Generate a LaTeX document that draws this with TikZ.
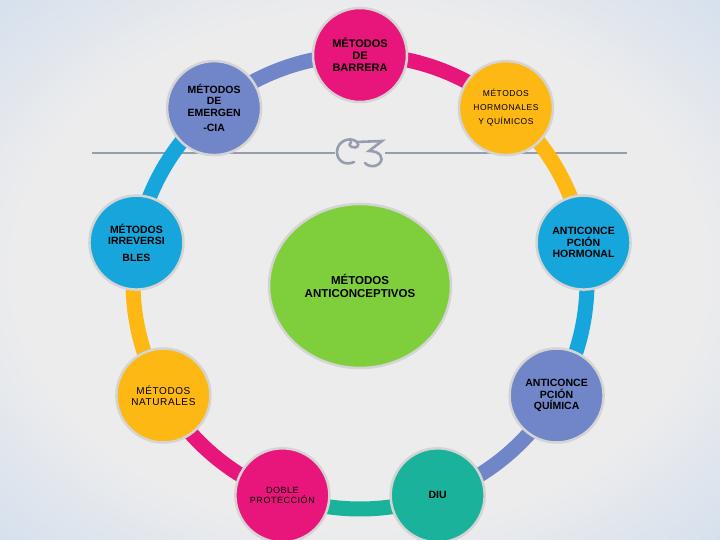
\documentclass[tikz,border=0pt]{standalone}
\usepackage{fontspec}
\setmainfont{Liberation Sans}
\newfontfamily\espaciada[LetterSpace=6]{Liberation Sans}
\usetikzlibrary{calc,shapes.geometric}

\definecolor{rosa}{RGB}{232,22,122}
\definecolor{lila}{RGB}{112,134,200}
\definecolor{amarillo}{RGB}{253,184,19}
\definecolor{celeste}{RGB}{22,166,220}
\definecolor{verde}{RGB}{127,206,60}
\definecolor{turquesa}{RGB}{26,178,155}
\definecolor{borde}{RGB}{212,212,212}
\definecolor{lineagris}{RGB}{150,158,174}
\definecolor{fondoin}{RGB}{236,236,237}
\definecolor{fondoout}{RGB}{192,213,236}

\pgfdeclareradialshading{fondo}{\pgfpoint{0bp}{0bp}}{color(0bp)=(fondoin); color(24bp)=(fondoin); color(46bp)=(fondoout); color(75bp)=(fondoout)}

\tikzset{
	metodo/.style={circle, minimum size=94pt, inner sep=0pt, draw=borde, line width=2.5pt, fill=#1, align=center, text=black},
	negrita/.style={font=\fontsize{10.5}{11.5}\selectfont\bfseries},
	ligera/.style={font=\espaciada\fontsize{#1}{10}\selectfont},
	anillo/.style={line width=15pt, draw=#1},
}

\begin{document}
\begin{tikzpicture}[x=1pt, y=1pt]
			%%%%% FONDO %%%%%
			\useasboundingbox (0,0) rectangle (720,540);
			\shade[shading=fondo] (0,0) rectangle (720,540);
			
			\draw[line width=2pt, color=lineagris] (92,387) -- (335,387);
			\draw[line width=2pt, color=lineagris] (385,387) -- (627,387);
			
			\begin{scope}[shift={(360,389)}, line width=2.6pt, color=lineagris, line cap=round]
				\draw (-3,9) .. controls (-10,15) and (-23,10) .. (-23,-1) .. controls (-23,-10) and (-15,-15) .. (-6,-11);
				\draw (-3,9) .. controls (0,6) and (-3,2) .. (-8,4) .. controls (-11,5) and (-11,8) .. (-9,9);
				\draw (-3,9) -- (22,10) -- (9,0) .. controls (20,0) and (25,-7) .. (19,-13) .. controls (14,-17) and (7,-15) .. (5,-12);
			\end{scope}
			
			%%%%% ANILLO %%%%%
			\coordinate (c) at (360,258);
			\coordinate (pBarrera) at ($(c)+(90:227)$);
			\coordinate (pHormonales) at ($(c)+(50:227)$);
			\coordinate (pAntiHormonal) at ($(c)+(10:227)$);
			\coordinate (pAntiQuimica) at ($(c)+(-30:227)$);
			\coordinate (pDiu) at ($(c)+(-70:227)$);
			\coordinate (pDoble) at ($(c)+(-110:227)$);
			\coordinate (pNaturales) at ($(c)+(-150:227)$);
			\coordinate (pIrreversibles) at ($(c)+(170:227)$);
			\coordinate (pEmergencia) at ($(c)+(130:227)$);
			
			\draw[anillo=rosa] (pBarrera) arc[start angle=90, end angle=50, radius=227pt];
			\draw[anillo=amarillo] (pHormonales) arc[start angle=50, end angle=10, radius=227pt];
			\draw[anillo=celeste] (pAntiHormonal) arc[start angle=10, end angle=-30, radius=227pt];
			\draw[anillo=lila] (pAntiQuimica) arc[start angle=-30, end angle=-70, radius=227pt];
			\draw[anillo=turquesa] (pDiu) arc[start angle=-70, end angle=-110, radius=227pt];
			\draw[anillo=rosa] (pDoble) arc[start angle=-110, end angle=-150, radius=227pt];
			\draw[anillo=amarillo] (pNaturales) arc[start angle=-150, end angle=-190, radius=227pt];
			\draw[anillo=celeste] (pIrreversibles) arc[start angle=170, end angle=130, radius=227pt];
			\draw[anillo=lila] (pEmergencia) arc[start angle=130, end angle=90, radius=227pt];
			
			%%%%% CIRCULOS %%%%%
			\node[metodo=rosa, font=\fontsize{11}{12}\selectfont\bfseries] (barrera) at (pBarrera) {MÉTODOS\\DE\\BARRERA};
			\node[metodo=amarillo, font=\espaciada\fontsize{8.5}{14}\selectfont] (hormonales) at (pHormonales) {MÉTODOS\\HORMONALES\\Y QUÍMICOS};
			\node[metodo=celeste, negrita] (antiHormonal) at (pAntiHormonal) {ANTICONCE\\PCIÓN\\HORMONAL};
			\node[metodo=lila, negrita] (antiQuimica) at (pAntiQuimica) {ANTICONCE\\PCIÓN\\QUÍMICA};
			\node[metodo=turquesa, negrita] (diu) at (pDiu) {DIU};
			\node[metodo=rosa, ligera=9] (doble) at (pDoble) {DOBLE\\PROTECCIÓN};
			\node[metodo=amarillo, font=\espaciada\fontsize{10}{11}\selectfont] (naturales) at (pNaturales) {MÉTODOS\\NATURALES};
			\node[metodo=celeste, negrita] (irreversibles) at (pIrreversibles) {MÉTODOS\\IRREVERSI\\[5pt]BLES};
			\node[metodo=lila, negrita] (emergencia) at (pEmergencia) {MÉTODOS\\DE\\EMERGEN\\[4pt]-CIA};
			
			\node[ellipse, minimum width=182pt, minimum height=164pt, inner sep=0pt, fill=verde, draw=borde, line width=2.5pt, align=center, font=\fontsize{11.5}{13}\selectfont\bfseries] (centro) at (360,254) {MÉTODOS\\ANTICONCEPTIVOS};
			
		\end{tikzpicture}
\end{document}
